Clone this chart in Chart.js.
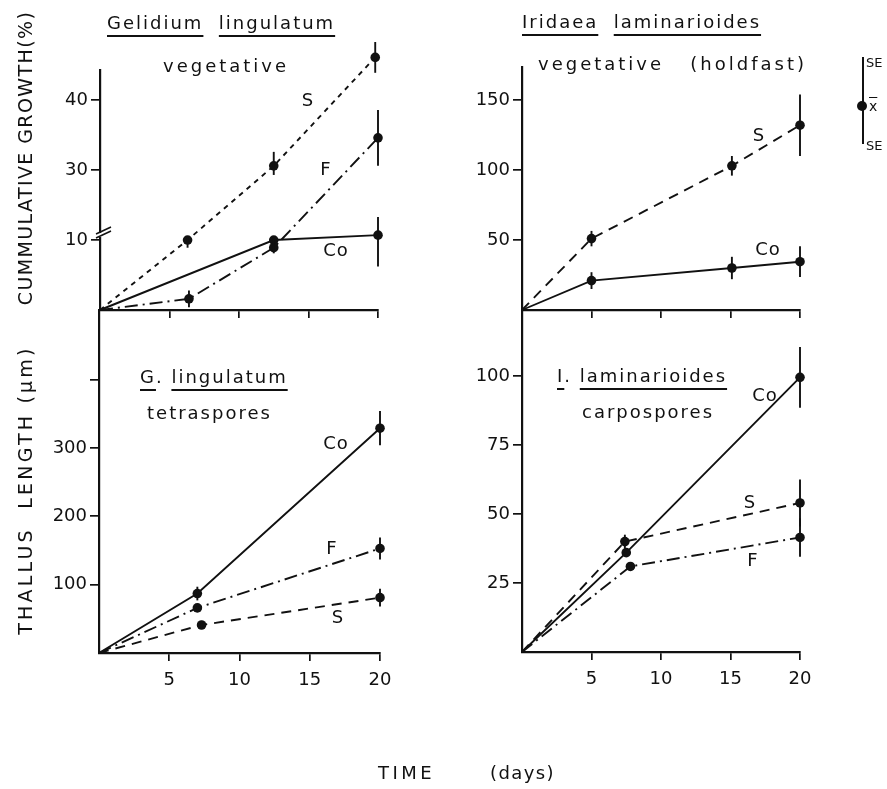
<!DOCTYPE html>
<html><head><meta charset="utf-8">
<script src="https://cdn.jsdelivr.net/npm/chart.js@4.4.1/dist/chart.umd.min.js"></script>
<style>
body{margin:0;background:#fff;}
#wrap{position:relative;width:887px;height:789px;overflow:hidden;font-family:"DejaVu Sans",sans-serif;color:#111;}
canvas{position:absolute;left:0;top:0;pointer-events:none;}
.t{position:absolute;white-space:pre;font-size:18px;letter-spacing:2px;line-height:1;transform:translateY(-50%);}
.u{text-decoration:underline;text-underline-offset:6px;text-decoration-thickness:1.7px;}
.lab{position:absolute;font-size:18px;line-height:1;transform:translate(-50%,-50%);letter-spacing:1px;}
.rot{position:absolute;white-space:pre;font-size:19px;letter-spacing:1.4px;line-height:1;transform:translate(-50%,-50%) rotate(-90deg);}
.se{position:absolute;font-size:13px;line-height:1;}
</style>
</head><body>
<div id="wrap">
<canvas id="c1" width="887" height="789"></canvas>
<canvas id="c2" width="887" height="789"></canvas>
<canvas id="c3" width="887" height="789"></canvas>
<canvas id="c4" width="887" height="789"></canvas>

<div class="t" style="left:107px;top:23px;"><span class="u">Gelidium</span>  <span class="u">lingulatum</span></div>
<div class="t" style="left:163px;top:66px;letter-spacing:3px;">vegetative</div>
<div class="t" style="left:522px;top:22px;"><span class="u">Iridaea</span>  <span class="u">laminarioides</span></div>
<div class="t" style="left:538px;top:64px;letter-spacing:3px;">vegetative   (holdfast)</div>
<div class="t" style="left:140px;top:377px;"><span class="u">G</span>. <span class="u">lingulatum</span></div>
<div class="t" style="left:147px;top:413px;">tetraspores</div>
<div class="t" style="left:557px;top:376px;"><span class="u">I</span>. <span class="u">laminarioides</span></div>
<div class="t" style="left:582px;top:412px;">carpospores</div>

<div class="rot" style="left:25px;top:158px;">CUMMULATIVE GROWTH(%)</div>
<div class="rot" style="left:25px;top:490px;letter-spacing:3.2px;">THALLUS  LENGTH (μm)</div>
<div class="t" style="left:378px;top:773px;letter-spacing:3.5px;">TIME</div>
<div class="t" style="left:490px;top:773px;letter-spacing:1.4px;">(days)</div>

<div class="lab" style="left:308px;top:100px;">S</div>
<div class="lab" style="left:326px;top:169px;">F</div>
<div class="lab" style="left:336px;top:250px;">Co</div>
<div class="lab" style="left:759px;top:135px;">S</div>
<div class="lab" style="left:768px;top:249px;">Co</div>
<div class="lab" style="left:336px;top:443px;">Co</div>
<div class="lab" style="left:332px;top:548px;">F</div>
<div class="lab" style="left:338px;top:617px;">S</div>
<div class="lab" style="left:765px;top:395px;">Co</div>
<div class="lab" style="left:750px;top:502px;">S</div>
<div class="lab" style="left:753px;top:560px;">F</div>

<div style="position:absolute;left:862px;top:57px;width:1.8px;height:87px;background:#111;"></div>
<div style="position:absolute;left:857px;top:101px;width:10px;height:10px;border-radius:50%;background:#111;"></div>
<div class="se" style="left:866px;top:56px;">SE</div>
<div class="se" style="left:869px;top:99px;font-size:14px;text-decoration:overline;">x</div>
<div class="se" style="left:866px;top:139px;">SE</div>
</div>
<script>
// ---- Panel A: Gelidium lingulatum, vegetative — cumulative growth (%) ----
const gvDaysS  = [0, 6.3, 12.5, 19.8];
const gvS      = [0, 10, 30.6, 46.1];
const gvSerr   = [0, 1.1, 2, 2.2];
const gvDaysF  = [0, 6.4, 12.5, 20];
const gvF      = [0, 1.6, 8.9, 34.6];
const gvFerr   = [0, 1.2, 0.8, 4];
const gvDaysCo = [0, 12.5, 20];
const gvCo     = [0, 10, 11.4];
const gvCoErr  = [0, 0.8, 5.2];
const gvTickVals = [10, 30, 40];

// ---- Panel B: Iridaea laminarioides, vegetative (holdfast) — cumulative growth (%) ----
const ivDays   = [0, 5, 15.1, 20];
const ivS      = [0, 51, 103, 132];
const ivSerr   = [0, 5.5, 7, 22];
const ivCo     = [0, 21, 30, 34.5];
const ivCoErr  = [0, 6, 8, 11];
const ivTickVals = [50, 100, 150];

// ---- Panel C: G. lingulatum tetraspores — thallus length (µm) ----
const gtDaysCo = [0, 7, 20];
const gtCo     = [0, 87, 329];
const gtCoErr  = [0, 10, 25];
const gtDaysF  = [0, 7, 20];
const gtF      = [0, 66, 153];
const gtFerr   = [0, 5, 16];
const gtDaysS  = [0, 7.3, 20];
const gtS      = [0, 41, 81];
const gtSerr   = [0, 6, 13];
const gtTickVals = [100, 200, 300, 400];

// ---- Panel D: I. laminarioides carpospores — thallus length (µm) ----
const icDaysCo = [0, 7.5, 20];
const icCo     = [0, 36, 99.5];
const icCoErr  = [0, 0, 11];
const icDaysS  = [0, 7.4, 20];
const icS      = [0, 40, 54];
const icSerr   = [0, 2.5, 8.5];
const icDaysF  = [0, 7.8, 20];
const icF      = [0, 31, 41.5];
const icFerr   = [0, 1.5, 7];
const icTickVals = [25, 50, 75, 100];

const dayTicks = [5, 10, 15, 20];

// broken axis (panel A): 0-10 true scale, 10-30 compressed, >=30 shifted
function brk(v){ return v <= 10 ? v : (v < 30 ? 10 + (v - 10) / 2 : v - 10); }
function unbrk(d){ return d <= 10 ? d : (d < 20 ? 10 + (d - 10) * 2 : d + 10); }

const INK = '#111';
const PR = 4.8;
const DASH_S1 = [5, 5];
const DASH_S2 = [10, 7];
const DASH_F = [13, 5, 2, 5];

function series(xs, ys, errs, dash, tf){
  tf = tf || (v => v);
  return {
    data: xs.map((x, i) => ({x: x, y: tf(ys[i])})),
    err: errs.map((e, i) => [tf(ys[i] - e), tf(ys[i] + e)]),
    borderColor: INK, borderWidth: 1.9, borderDash: dash,
    pointRadius: xs.map(x => x === 0 ? 0 : PR),
    pointBackgroundColor: INK, pointBorderWidth: 0,
    tension: 0, clip: false, fill: false
  };
}

const errPlugin = {
  id: 'errbars',
  afterDatasetsDraw(chart){
    const ctx = chart.ctx, xs = chart.scales.x, ys = chart.scales.y, a = chart.chartArea;
    ctx.save(); ctx.strokeStyle = INK; ctx.fillStyle = INK; ctx.lineWidth = 1.9; ctx.setLineDash([]);
    chart.data.datasets.forEach((ds, di) => {
      const meta = chart.getDatasetMeta(di);
      ds.data.forEach((p, i) => {
        const e = ds.err[i];
        const el = meta.data[i];
        // markers the library skips because they sit above the axis top
        if (p.x !== 0 && el && (el.y < a.top - 0.5 || el.y > a.bottom + 0.5)) {
          ctx.beginPath(); ctx.arc(el.x, el.y, PR, 0, Math.PI * 2); ctx.fill();
        }
        if (p.x === 0 || e[1] - e[0] <= 0) return;
        const px = xs.getPixelForValue(p.x);
        ctx.beginPath();
        ctx.moveTo(px, ys.getPixelForValue(e[0]));
        ctx.lineTo(px, ys.getPixelForValue(e[1]));
        ctx.stroke();
      });
    });
    ctx.restore();
  }
};

const breakPlugin = {
  id: 'axisbreak',
  afterDraw(chart, args, opts){
    if (!opts.on) return;
    const ctx = chart.ctx, ys = chart.scales.y, x0 = chart.chartArea.left;
    const y = ys.getPixelForValue(10) - 4;
    ctx.save(); ctx.strokeStyle = INK; ctx.lineWidth = 1.6;
    ctx.fillStyle = '#fff'; ctx.fillRect(x0 - 2, y - 3, 4, 4);
    [0, 4].forEach(o => {
      ctx.beginPath();
      ctx.moveTo(x0 - 4, y + 2 - o); ctx.lineTo(x0 + 11, y - 5 - o);
      ctx.stroke();
    });
    ctx.restore();
  }
};

function makeChart(id, area, yMax, yTicks, yLabel, showX, datasets, brkOn){
  const YW = 60, XH = 40;
  return new Chart(document.getElementById(id), {
    type: 'line',
    data: {datasets: datasets},
    plugins: [errPlugin, breakPlugin],
    options: {
      responsive: false, animation: false, events: [],
      layout: {padding: {left: area.l - YW, right: 887 - area.r, top: area.t, bottom: 789 - area.b - XH}},
      plugins: {legend: {display: false}, tooltip: {enabled: false}, axisbreak: {on: !!brkOn}},
      scales: {
        x: {
          type: 'linear', min: 0, max: 20,
          afterBuildTicks: s => { s.ticks = dayTicks.map(v => ({value: v})); },
          afterFit: s => { s.height = XH; },
          ticks: {color: showX ? INK : 'rgba(0,0,0,0)', font: {family: 'DejaVu Sans', size: 18}, padding: 9, maxRotation: 0, autoSkip: false},
          grid: {drawOnChartArea: false, drawTicks: true, tickLength: 8, color: INK, lineWidth: 1.7},
          border: {display: true, color: INK, width: 2.2}
        },
        y: {
          type: 'linear', min: 0, max: yMax,
          afterBuildTicks: s => { s.ticks = yTicks.map(v => ({value: v})); },
          afterFit: s => { s.width = YW; },
          ticks: {color: INK, font: {family: 'DejaVu Sans', size: 18}, padding: 3, callback: yLabel, autoSkip: false},
          grid: {drawOnChartArea: false, drawTicks: true, tickLength: 9, color: INK, lineWidth: 1.7},
          border: {display: true, color: INK, width: 2.2}
        }
      }
    }
  });
}

// Panel A (broken y axis)
makeChart('c1', {l: 100, r: 378, t: 70, b: 310}, 34.3,
  gvTickVals.map(brk), v => String(Math.round(unbrk(v))), false, [
    series(gvDaysS, gvS, gvSerr, DASH_S1, brk),
    series(gvDaysF, gvF, gvFerr, DASH_F, brk),
    series(gvDaysCo, gvCo, gvCoErr, [], brk)
  ], true);

// Panel B
makeChart('c2', {l: 522, r: 800, t: 67, b: 310}, 173.6,
  ivTickVals, v => String(v), false, [
    series(ivDays, ivS, ivSerr, DASH_S2),
    series(ivDays, ivCo, ivCoErr, [])
  ]);

// Panel C
makeChart('c3', {l: 99, r: 380, t: 310, b: 653}, 502,
  gtTickVals, v => v === 400 ? '' : String(v), true, [
    series(gtDaysCo, gtCo, gtCoErr, []),
    series(gtDaysF, gtF, gtFerr, DASH_F),
    series(gtDaysS, gtS, gtSerr, DASH_S2)
  ]);

// Panel D
makeChart('c4', {l: 522, r: 800, t: 310, b: 652}, 123.9,
  icTickVals, v => String(v), true, [
    series(icDaysCo, icCo, icCoErr, []),
    series(icDaysS, icS, icSerr, DASH_S2),
    series(icDaysF, icF, icFerr, DASH_F)
  ]);
</script>
</body></html>
